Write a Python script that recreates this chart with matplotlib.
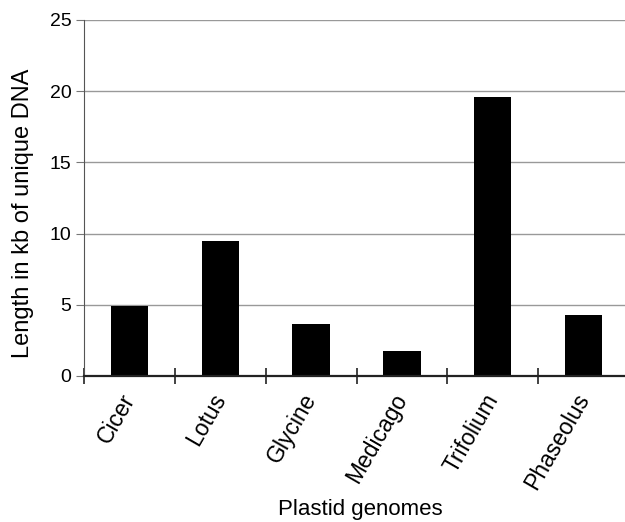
import numpy as np
import matplotlib.pyplot as plt

plt.rcParams["font.family"] = "Liberation Sans"

genomes = ["Cicer", "Lotus", "Glycine", "Medicago", "Trifolium", "Phaseolus"]
unique_kb = [4.9, 9.48, 3.63, 1.78, 19.6, 4.25]
yticks = [0, 5, 10, 15, 20, 25]

fig = plt.figure(figsize=(6.25, 5.22), dpi=100)
# axes runs slightly past the right edge, like the original
ax = fig.add_axes([84/625, 1 - 376/522, 545/625, 356/522])

x = np.arange(len(genomes))
ax.bar(x, unique_kb, width=0.41, color="black", zorder=3)

ax.set_xlim(-0.5, len(genomes) - 0.5)
ax.set_ylim(0, 25)
ax.set_yticks(yticks)
ax.tick_params(axis="y", labelsize=14, length=6, color="#777777", pad=3)
ax.yaxis.grid(True, color="#999999", linewidth=1, zorder=0)

# boundaries get tick marks, centres get the labels
ax.set_xticks(np.arange(len(genomes) + 1) - 0.5)
ax.set_xticklabels([])
ax.tick_params(axis="x", which="major", direction="inout", length=11, width=1.2, color="#222222")
ax.set_xticks(x, minor=True)
ax.set_xticklabels(genomes, minor=True, rotation=60, ha="right", va="center",
                   rotation_mode="anchor", fontsize=16.5)
ax.tick_params(axis="x", which="minor", length=0, pad=14)

for s in ["top", "right"]:
    ax.spines[s].set_visible(False)
ax.spines["left"].set_color("#555555")
ax.spines["bottom"].set_color("#222222")
ax.spines["bottom"].set_linewidth(1.6)
ax.spines["bottom"].set_zorder(4)

fig.text(23/625, 1 - 213/522, "Length in kb of unique DNA", fontsize=17,
         rotation=90, ha="center", va="center")
fig.text(360/625, 1 - 515/522, "Plastid genomes", fontsize=16, ha="center", va="baseline")

fig.savefig("out.png", dpi=100)
